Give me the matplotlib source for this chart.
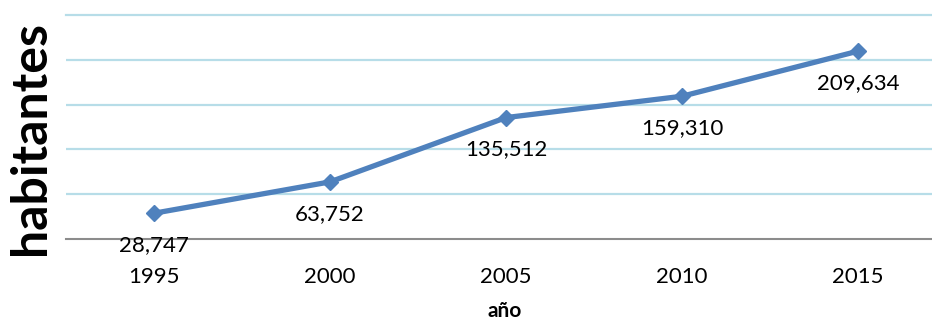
import matplotlib.pyplot as plt
import numpy as np

# datos ------------------------------------------------------------
anios = ['1995', '2000', '2005', '2010', '2015']
habitantes = [28747, 63752, 135512, 159310, 209634]
etiquetas = ['28,747', '63,752', '135,512', '159,310', '209,634']

plt.rcParams['font.family'] = ['Lato', 'DejaVu Sans']

fig = plt.figure(figsize=(9.32, 3.22), dpi=100)
ancho = 880  # px, el eje sigue hasta el borde derecho
ax = fig.add_axes([66/932, 83/322, ancho/932, 224/322])

x = np.arange(len(anios))
ax.plot(x, habitantes, color='#4F81BD', lw=3.8, marker='D', ms=8,
        solid_capstyle='round', zorder=3)

for xi, yi, txt in zip(x, habitantes, etiquetas):
    ax.annotate(txt, (xi, yi), xytext=(0, -23), textcoords='offset points',
                ha='center', va='center', fontsize=16, color='black')

ax.set_xlim(-0.5, -0.5 + ancho/176)
ax.set_ylim(0, 250000)
ax.set_yticks(np.arange(50000, 250001, 50000))
ax.set_yticklabels([])
ax.tick_params(axis='y', length=0)
ax.set_xticks(x)
ax.set_xticklabels(anios, fontsize=16)
ax.tick_params(axis='x', length=0, pad=20)
ax.grid(axis='y', color='#B7DDE8', lw=1.6)
ax.set_axisbelow(True)
for s in ['top', 'right', 'left']:
    ax.spines[s].set_visible(False)
ax.spines['bottom'].set_color('#8C8C8C')
ax.spines['bottom'].set_linewidth(1.5)
ax.get_yaxis().get_gridlines()[-1].set_clip_on(False)

fig.text(505/932, 1-311/322, 'año', ha='center', va='center',
         fontsize=15, fontweight='bold')
fig.text(31/932, 1-138/322, 'habitantes', rotation=90, ha='center', va='center',
         fontsize=36, fontweight='bold')

fig.savefig('out.png', dpi=100)
